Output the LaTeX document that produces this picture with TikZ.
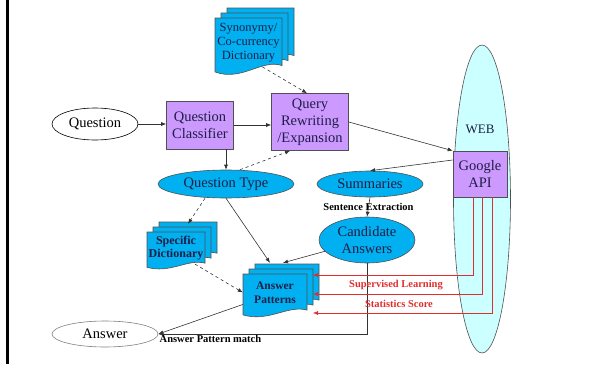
\documentclass[tikz,border=0pt]{standalone}
\usepackage{fontspec}
\setmainfont{Liberation Serif}
\usetikzlibrary{positioning,arrows.meta,shapes.geometric}

\definecolor{boxpurple}{RGB}{204,153,255}
\definecolor{shapecyan}{RGB}{0,176,240}
\definecolor{webcyan}{RGB}{204,255,255}
\definecolor{edgegray}{RGB}{80,80,80}
\definecolor{inknavy}{RGB}{30,30,70}
\definecolor{linkred}{RGB}{225,45,45}

\tikzset{
  oval/.style={ellipse,draw=black,fill=white,line width=0.6pt,inner sep=0pt,text=black},
  procbox/.style={rectangle,draw=edgegray,fill=boxpurple,line width=0.6pt,align=center,inner sep=0pt},
  blueoval/.style={ellipse,draw=edgegray,fill=shapecyan,line width=0.6pt,align=center,inner sep=0pt},
  docsheet/.style={draw=edgegray,fill=shapecyan,line width=0.6pt},
  doctext/.style={align=center,inner sep=0pt,font=\fontsize{12.5}{14}\selectfont},
  arr/.style={-{Latex[length=5pt,width=4pt]},draw=black!80,line width=0.6pt},
  dasharr/.style={arr,dashed},
  redarr/.style={-{Latex[length=5pt,width=4pt]},draw=linkred,line width=0.5pt},
  smalllabel/.style={font=\fontsize{10.5}{12}\selectfont\bfseries,text=black,inner sep=1pt},
  redlabel/.style={smalllabel,text=linkred}
}

% stack of three document sheets: options, name, left, top, width, height, text
\newcommand{\docstack}[7]{%
  \foreach \k in {2,1,0}{
    \filldraw[docsheet] ({#3+6*\k},{#4-5*\k}) -- ({#3+6*\k+#5},{#4-5*\k})
      -- ({#3+6*\k+#5},{#4-5*\k+0.82*#6})
      .. controls ({#3+6*\k+0.7*#5},{#4-5*\k+0.7*#6}) and ({#3+6*\k+0.4*#5},{#4-5*\k+1.1*#6})
      .. ({#3+6*\k},{#4-5*\k+0.93*#6}) -- cycle;
  }
  \node[doctext,#1,minimum width=#5,minimum height={0.84*#6}] (#2) at ({#3+#5/2},{#4+0.42*#6}) {#7};
}

\begin{document}
\begin{tikzpicture}[x=1pt,y=-1pt,
    every node/.style={font=\fontsize{14.5}{17}\selectfont,text=inknavy}]
  \useasboundingbox (0,0) rectangle (591,364);
  \draw[line width=3pt] (7.5,0) -- (7.5,364);

  \node[ellipse,draw=edgegray,fill=webcyan,line width=0.6pt,minimum width=57,minimum height=308] (web) at (482,199) {};
  \node[font=\fontsize{13}{15}\selectfont] (webtxt) at (480,129) {WEB};
  \node[procbox,minimum width=54,minimum height=46] (gapi) at (480,174) {Google\\API};

  \node[oval,minimum width=86,minimum height=32] (q) at (95,124) {Question};
  \node[procbox,minimum width=67,minimum height=48] (qc) at (200,125) {Question\\Classifier};
  \node[procbox,minimum width=77,minimum height=57] (qr) at (310,122) {Query\\Rewriting\\/Expansion};
  \node[blueoval,minimum width=136,minimum height=28] (qt) at (226,184) {Question Type};
  \node[blueoval,minimum width=106,minimum height=26] (su) at (370,184) {Summaries};
  \node[blueoval,minimum width=96,minimum height=46] (ca) at (367,240) {Candidate\\Answers};
  \node[oval,draw=gray,minimum width=106,minimum height=26] (ans) at (105,334) {Answer};

  \docstack{}{syn}{215}{18}{67}{58}{Synonymy/\\Co-currency\\Dictionary}
  \docstack{font=\fontsize{12}{13.5}\selectfont\bfseries}{sd}{147}{232}{58}{38}{Specific\\Dictionary}
  \docstack{font=\fontsize{11.5}{14}\selectfont\bfseries}{ap}{243}{274}{64}{44}{Answer\\Patterns}

  \draw[arr] (q.east) -- (q.east -| qc.west);
  \draw[arr] (qc.east) -- (qc.east -| qr.west);
  \draw[arr] (qc.south -| qt.north) -- (qt.north);
  \draw[dasharr] ([xshift=14pt]syn.south) -- ([xshift=-3pt]qr.north);
  \draw[dasharr] ([xshift=14pt]qt.north) -- ([xshift=-20pt]qr.south);
  \draw[arr] (qr.east) -- (gapi.north west);
  \draw[arr] ([yshift=14pt]gapi.west) -- (su.north);
  \draw[arr] (su.south) -- node[smalllabel] (se) {Sentence Extraction} (ca.north);
  \draw[dasharr] ([xshift=-21pt]qt.south) -- ([xshift=12pt,yshift=8pt]sd.north);
  \draw[arr] (qt.south) -- ([xshift=-5pt,yshift=11pt]ap.north);
  \draw[arr] (ca.195) -- ([xshift=8pt,yshift=11pt]ap.north);
  \draw[dasharr] ([xshift=19pt]sd.south) -- (ap.west);
  \draw[arr] ([yshift=-12pt]ap.west) -- (ans.east);
  \draw[arr] (ca.south) |- node[smalllabel,pos=0.875,below] (apm) {Answer Pattern match} (ans.east);

  \coordinate (r1) at (313,275);
  \coordinate (r2) at (313,294);
  \coordinate (r3) at (313,313);
  \draw[redarr] ([xshift=-7pt]gapi.south) |- (r1);
  \draw[redarr] ([xshift=2pt]gapi.south) |- (r2);
  \draw[redarr] ([xshift=12pt]gapi.south) |- (r3);
  \node[redlabel] (sl) at (396,285) {Supervised Learning};
  \node[redlabel] (ss) at (399,304) {Statistics Score};
\end{tikzpicture}
\end{document}
